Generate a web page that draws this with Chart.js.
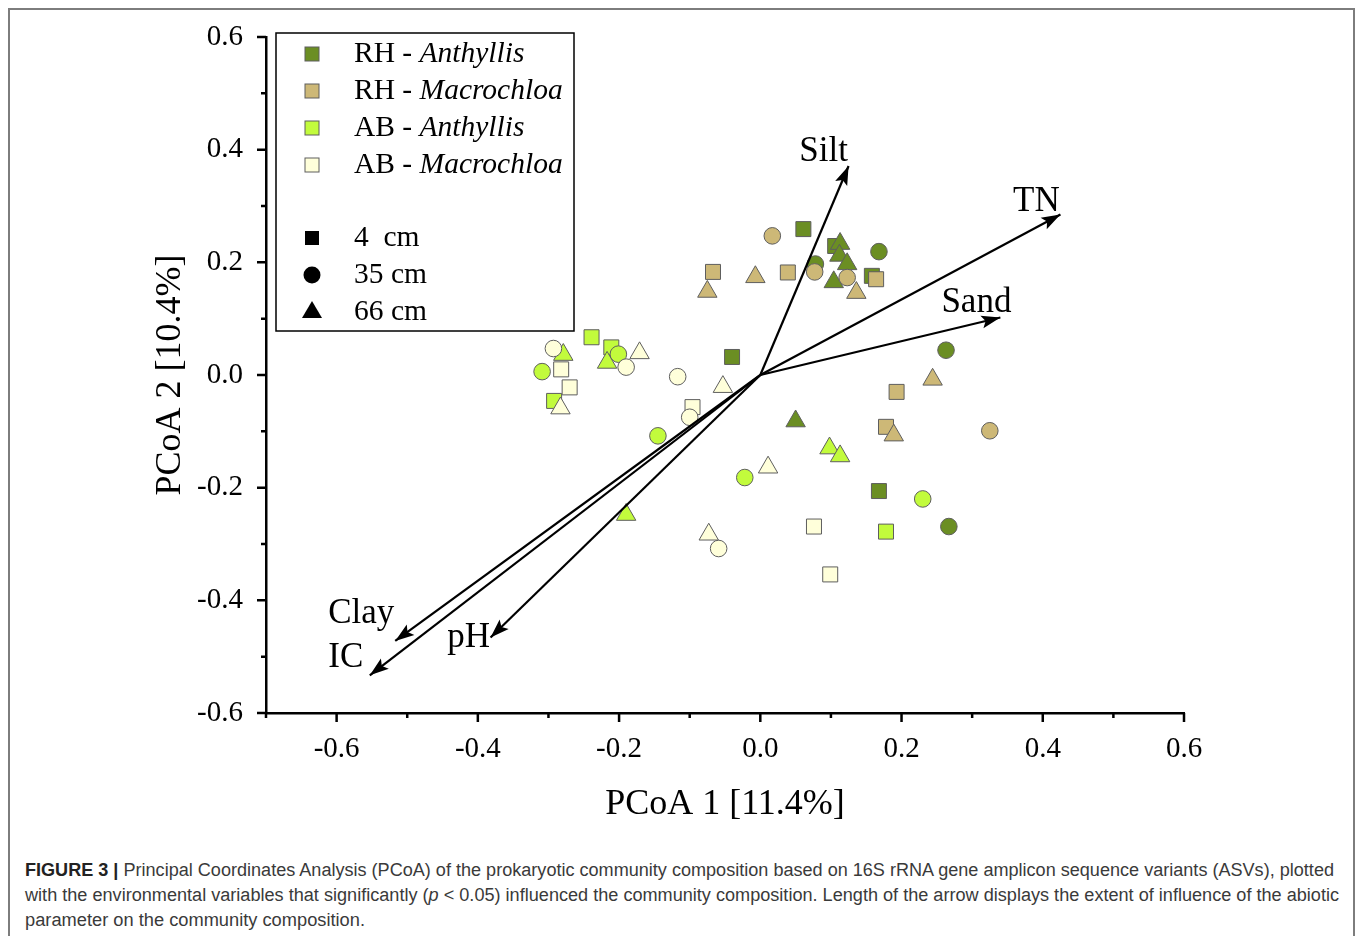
<!DOCTYPE html>
<html>
<head>
<meta charset="utf-8">
<script src="https://cdn.jsdelivr.net/npm/chart.js@4.4.0/dist/chart.umd.min.js"></script>
<style>
  html, body { margin: 0; padding: 0; background: #fff; }
  #wrap { position: relative; width: 1360px; height: 936px; overflow: hidden; }
  #frame { position: absolute; left: 8px; top: 8px; width: 1347px; height: 1000px; border: 2px solid #7d7d7d; box-sizing: border-box; }
  #pcoa { position: absolute; left: 0; top: 0; }
  #caption { position: absolute; left: 25px; top: 858px; font-family: "Liberation Sans", Arial, sans-serif; font-size: 18px; color: #3a3a3a; line-height: 25px; }
  #caption .ln { white-space: nowrap; display: block; width: max-content; transform-origin: 0 50%; }
  #caption b { color: #222; }
</style>
</head>
<body>
<div id="wrap">
  <div id="frame"></div>
  <canvas id="pcoa" width="1360" height="850"></canvas>
  <div id="caption">
    <div class="ln" data-w="1309"><b>FIGURE 3 |</b> Principal Coordinates Analysis (PCoA) of the prokaryotic community composition based on 16S rRNA gene amplicon sequence variants (ASVs), plotted</div>
    <div class="ln" data-w="1314">with the environmental variables that significantly (<i>p</i> &lt; 0.05) influenced the community composition. Length of the arrow displays the extent of influence of the abiotic</div>
    <div class="ln" data-w="340">parameter on the community composition.</div>
  </div>
</div>
<script>
// sample scores, [PCoA 1, PCoA 2]
// RH - Anthyllis
const rhAnth4  = [[0.061, 0.259], [-0.040, 0.032], [0.106, 0.229], [0.158, 0.176], [0.168, -0.206]];
const rhAnth35 = [[0.168, 0.219], [0.078, 0.197], [0.263, 0.044], [0.267, -0.269]];
const rhAnth66 = [[0.113, 0.233], [0.112, 0.212], [0.123, 0.197], [0.104, 0.165], [0.050, -0.082]];
// RH - Macrochloa
const rhMacr4  = [[-0.067, 0.183], [0.039, 0.182], [0.164, 0.170], [0.193, -0.030], [0.178, -0.092]];
const rhMacr35 = [[0.017, 0.247], [0.077, 0.183], [0.123, 0.173], [0.325, -0.099]];
const rhMacr66 = [[-0.007, 0.174], [-0.075, 0.148], [0.136, 0.146], [0.244, -0.008], [0.189, -0.107]];
// AB - Anthyllis
const abAnth4  = [[-0.239, 0.067], [-0.211, 0.049], [-0.292, -0.046], [0.178, -0.278]];
const abAnth35 = [[-0.309, 0.006], [-0.201, 0.037], [-0.145, -0.108], [-0.022, -0.182], [0.230, -0.220]];
const abAnth66 = [[-0.279, 0.036], [-0.217, 0.022], [-0.190, -0.248], [0.098, -0.130], [0.113, -0.144]];
// AB - Macrochloa
const abMacr4  = [[-0.282, 0.010], [-0.270, -0.022], [-0.096, -0.057], [0.076, -0.269], [0.099, -0.354]];
const abMacr35 = [[-0.293, 0.047], [-0.190, 0.014], [-0.117, -0.003], [-0.100, -0.075], [-0.059, -0.308]];
const abMacr66 = [[-0.171, 0.039], [-0.283, -0.059], [-0.053, -0.021], [0.011, -0.164], [-0.073, -0.283]];

// environmental vectors
const arrowNames = ['Silt', 'TN', 'Sand', 'Clay', 'IC', 'pH'];
const arrowX = [0.125, 0.425, 0.340, -0.517, -0.553, -0.382];
const arrowY = [0.371, 0.285, 0.102, -0.472, -0.533, -0.466];

const groupNames = ['RH - ', 'RH - ', 'AB - ', 'AB - '];
const groupPlants = ['Anthyllis', 'Macrochloa', 'Anthyllis', 'Macrochloa'];
const depthNames = ['4  cm', '35 cm', '66 cm'];

const groupColors = ['#6b8e23', '#cdb877', '#c2fb3c', '#ffffda'];
const edgeColor = '#5e5e5e';
const serif = "'Liberation Serif', 'Times New Roman', serif";

const toXY = arr => arr.map(p => ({x: p[0], y: p[1]}));

function pts(data, color, style) {
    const r = style === 'circle' ? 8.3 : (style === 'rect' ? 10.6 : 11.2);
    return {
        data: toXY(data),
        pointStyle: style,
        pointRadius: r,
        pointHoverRadius: r,
        backgroundColor: color,
        borderColor: edgeColor,
        borderWidth: 1,
        showLine: false
    };
}

const arrowSets = arrowNames.map((n, i) => ({
    label: n,
    isArrow: true,
    data: [{x: 0, y: 0}, {x: arrowX[i], y: arrowY[i]}],
    showLine: true,
    borderColor: '#000',
    borderWidth: 2.2,
    pointRadius: 0,
    pointHoverRadius: 0
}));

// first dataset is drawn on top, so arrows first, RH - Anthyllis last
const datasets = arrowSets.concat([
    pts(abMacr66, groupColors[3], 'triangle'),
    pts(abMacr35, groupColors[3], 'circle'),
    pts(abMacr4,  groupColors[3], 'rect'),
    pts(abAnth66, groupColors[2], 'triangle'),
    pts(abAnth35, groupColors[2], 'circle'),
    pts(abAnth4,  groupColors[2], 'rect'),
    pts(rhMacr66, groupColors[1], 'triangle'),
    pts(rhMacr35, groupColors[1], 'circle'),
    pts(rhMacr4,  groupColors[1], 'rect'),
    pts(rhAnth66, groupColors[0], 'triangle'),
    pts(rhAnth35, groupColors[0], 'circle'),
    pts(rhAnth4,  groupColors[0], 'rect')
]);

// label placement relative to arrow tips (px)
const labelOffset = {Silt: [-25, -14], TN: [-24, -13], Sand: [-24, -15], Clay: [-34, -27], IC: [-24, -17], pH: [-22, 0]};

const arrowPlugin = {
    id: 'arrowHeads',
    afterDatasetsDraw(chart) {
        const ctx = chart.ctx;
        ctx.save();
        ctx.fillStyle = '#000';
        chart.data.datasets.forEach((ds, i) => {
            if (!ds.isArrow) return;
            const el = chart.getDatasetMeta(i).data;
            const a = el[0], b = el[1];
            const ang = Math.atan2(b.y - a.y, b.x - a.x);
            const len = 19, half = 6.5;
            const c = Math.cos(ang), s = Math.sin(ang);
            ctx.beginPath();
            ctx.moveTo(b.x, b.y);
            ctx.lineTo(b.x - len * c + half * s, b.y - len * s - half * c);
            ctx.lineTo(b.x - len * 0.8 * c, b.y - len * 0.8 * s);
            ctx.lineTo(b.x - len * c - half * s, b.y - len * s + half * c);
            ctx.closePath();
            ctx.fill();
            const off = labelOffset[ds.label];
            ctx.font = '35px ' + serif;
            ctx.textAlign = 'center';
            ctx.textBaseline = 'middle';
            ctx.fillText(ds.label, b.x + off[0], b.y + off[1]);
        });
        ctx.restore();
    }
};

const ticksPlugin = {
    id: 'axisTicks',
    afterDraw(chart) {
        const ctx = chart.ctx;
        const xs = chart.scales.x, ys = chart.scales.y;
        ctx.save();
        ctx.strokeStyle = '#000';
        ctx.lineWidth = 2.5;
        ctx.beginPath();
        xs.ticks.forEach(t => {
            const px = xs.getPixelForValue(t.value);
            const len = t.label !== '' ? 9 : 5;
            ctx.moveTo(px, xs.top);
            ctx.lineTo(px, xs.top + len);
        });
        ys.ticks.forEach(t => {
            const py = ys.getPixelForValue(t.value);
            const len = t.label !== '' ? 9 : 5;
            ctx.moveTo(ys.right, py);
            ctx.lineTo(ys.right - len, py);
        });
        ctx.stroke();
        ctx.restore();
    }
};

const legendPlugin = {
    id: 'boxLegend',
    afterDraw(chart) {
        const ctx = chart.ctx;
        const left = 276, top = 33, w = 298, h = 298;
        ctx.save();
        ctx.strokeStyle = '#000';
        ctx.lineWidth = 1.5;
        ctx.strokeRect(left, top, w, h);
        const mx = 312, tx = 354;
        const rows = [54, 91, 128, 165];
        ctx.textBaseline = 'middle';
        ctx.textAlign = 'left';
        groupNames.forEach((g, i) => {
            ctx.fillStyle = groupColors[i];
            ctx.strokeStyle = edgeColor;
            ctx.lineWidth = 1;
            ctx.fillRect(mx - 7, rows[i] - 7, 14, 14);
            ctx.strokeRect(mx - 7, rows[i] - 7, 14, 14);
            ctx.fillStyle = '#000';
            ctx.font = '29.5px ' + serif;
            ctx.fillText(g, tx, rows[i]);
            const gw = ctx.measureText(g).width;
            ctx.font = 'italic 29.5px ' + serif;
            ctx.fillText(groupPlants[i], tx + gw, rows[i]);
        });
        const drows = [238, 275, 312];
        ctx.fillStyle = '#000';
        ctx.fillRect(mx - 7, drows[0] - 7, 14, 14);
        ctx.beginPath();
        ctx.arc(mx, drows[1], 8.5, 0, Math.PI * 2);
        ctx.fill();
        ctx.beginPath();
        ctx.moveTo(mx, drows[2] - 11);
        ctx.lineTo(mx + 10, drows[2] + 6);
        ctx.lineTo(mx - 10, drows[2] + 6);
        ctx.closePath();
        ctx.fill();
        ctx.font = '29.5px ' + serif;
        depthNames.forEach((d, i) => ctx.fillText(d, tx, drows[i]));
        ctx.restore();
    }
};

const tickLabel = v => {
    const k = Math.round(v * 10);
    return k % 2 === 0 ? (k / 10).toFixed(1) : '';
};

new Chart(document.getElementById('pcoa'), {
    type: 'scatter',
    data: {datasets: datasets},
    options: {
        responsive: false,
        animation: false,
        events: [],
        layout: {padding: {left: 0, right: 176, top: 37, bottom: 0}},
        plugins: {legend: {display: false}, tooltip: {enabled: false}},
        scales: {
            x: {
                type: 'linear',
                min: -0.7,
                max: 0.6,
                grid: {display: false, drawTicks: true, tickLength: 9},
                border: {display: true, color: '#000', width: 2.5},
                ticks: {
                    stepSize: 0.1, autoSkip: false, maxRotation: 0, padding: 10,
                    color: '#000', font: {family: serif, size: 29},
                    callback: tickLabel
                },
                title: {
                    display: true, text: 'PCoA 1 [11.4%]', color: '#000',
                    font: {family: serif, size: 36}, padding: {top: 0, bottom: 24}
                },
                afterFit: s => { s.height = 137; }
            },
            y: {
                type: 'linear',
                min: -0.6,
                max: 0.6,
                grid: {display: false, drawTicks: true, tickLength: 9},
                border: {display: true, color: '#000', width: 2.5},
                ticks: {
                    stepSize: 0.1, autoSkip: false, padding: 14,
                    color: '#000', font: {family: serif, size: 29},
                    callback: tickLabel
                },
                title: {
                    display: true, text: 'PCoA 2 [10.4%]', color: '#000',
                    font: {family: serif, size: 36}, padding: {top: 149, bottom: 0}
                },
                afterFit: s => { s.width = 266; }
            }
        }
    },
    plugins: [arrowPlugin, ticksPlugin, legendPlugin]
});

// squeeze caption lines to the printed width
document.querySelectorAll('#caption .ln').forEach(el => {
    const target = +el.dataset.w;
    const w = el.getBoundingClientRect().width;
    el.style.transform = 'scaleX(' + (target / w) + ')';
});
</script>
</body>
</html>
